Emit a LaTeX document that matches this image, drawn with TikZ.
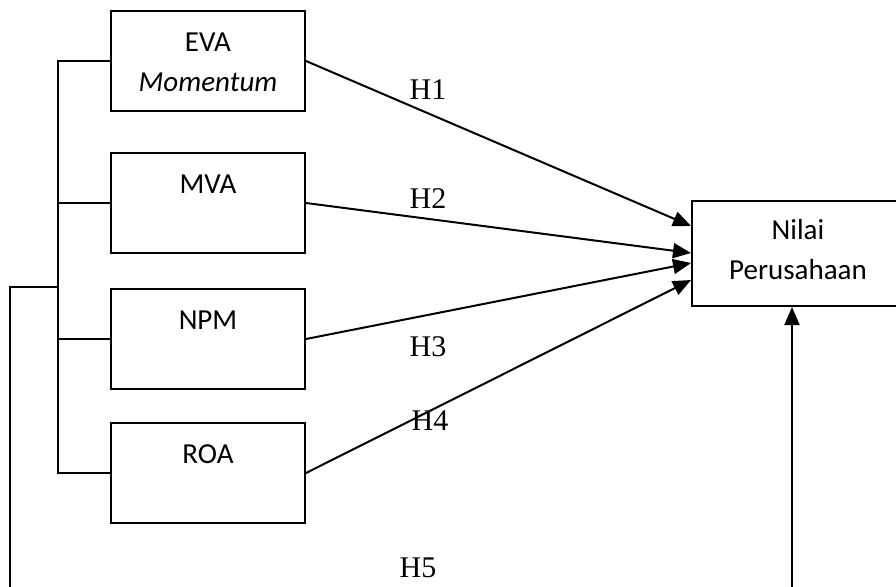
\documentclass[tikz,border=0pt]{standalone}
\usepackage{fontspec}
\setmainfont{Liberation Serif}
\newfontfamily\boxfont{Carlito}
\usepackage{tikz}
\usetikzlibrary{arrows.meta, positioning, calc}

\begin{document}
\begin{tikzpicture}[
    x=0.5pt, y=-0.5pt,
    box/.style={
        rectangle,
        draw=black,
        line width=1pt,
        minimum width=97pt,
        minimum height=50pt,
        inner sep=0pt
    },
    boxtext/.style={
        anchor=north,
        inner sep=0pt,
        yshift=-11pt,
        align=center,
        font=\boxfont\fontsize{14.5}{20}\selectfont
    },
    hyp/.style={
        anchor=base,
        inner sep=0pt,
        font=\fontsize{15}{18}\selectfont
    },
    myline/.style={
        line width=1pt,
        draw=black
    },
    myarrow/.style={
        -{Triangle[length=9pt, width=7.5pt]},
        line width=1pt,
        draw=black
    }
]
\clip (0,0) rectangle (896,586);

% variabel independen
\node[box, label={[boxtext]north:{EVA\\\textit{Momentum}}}] (eva) at (208,61) {};
\node[box, below=20pt of eva, label={[boxtext]north:MVA}] (mva) {};
\node[box, below=17pt of mva, label={[boxtext]north:NPM}] (npm) {};
\node[box, below=16pt of npm, label={[boxtext]north:ROA}] (roa) {};

% variabel dependen
\node[box, minimum width=106pt, minimum height=52.5pt,
      label={[boxtext, yshift=1.5pt]north:{Nilai\\Perusahaan}}] (nilai) at (798,253.5) {};

% kurung simultan
\draw[myline] (eva.west) -- ++(-52,0) coordinate (brk) |- (roa.west);
\draw[myline] (mva.west) -- (brk |- mva.west);
\draw[myline] (npm.west) -- (brk |- npm.west);

% H1 - H4
\draw[myarrow] (eva.east) -- ($(nilai.west)+(0,-27.5)$);
\draw[myarrow] (mva.east) -- ($(nilai.west)+(0,-0.5)$);
\draw[myarrow] (npm.east) -- ($(nilai.west)+(0,9.5)$);
\draw[myarrow] (roa.east) -- ($(nilai.west)+(0,26.5)$);

\node[hyp] (h1) at (428,99) {H1};
\node[hyp] (h2) at (428,208) {H2};
\node[hyp] (h3) at (428,356) {H3};
\node[hyp] (h4) at (430,430) {H4};

% H5
\coordinate (split) at (brk |- 0,287);
\coordinate (h5a) at (10,594);
\coordinate (h5b) at (792,594);
\draw[myarrow] (split) -| (h5a) -- (h5b) -- (h5b |- nilai.south);
\node[hyp] (h5) at (418,577) {H5};

\end{tikzpicture}
\end{document}
